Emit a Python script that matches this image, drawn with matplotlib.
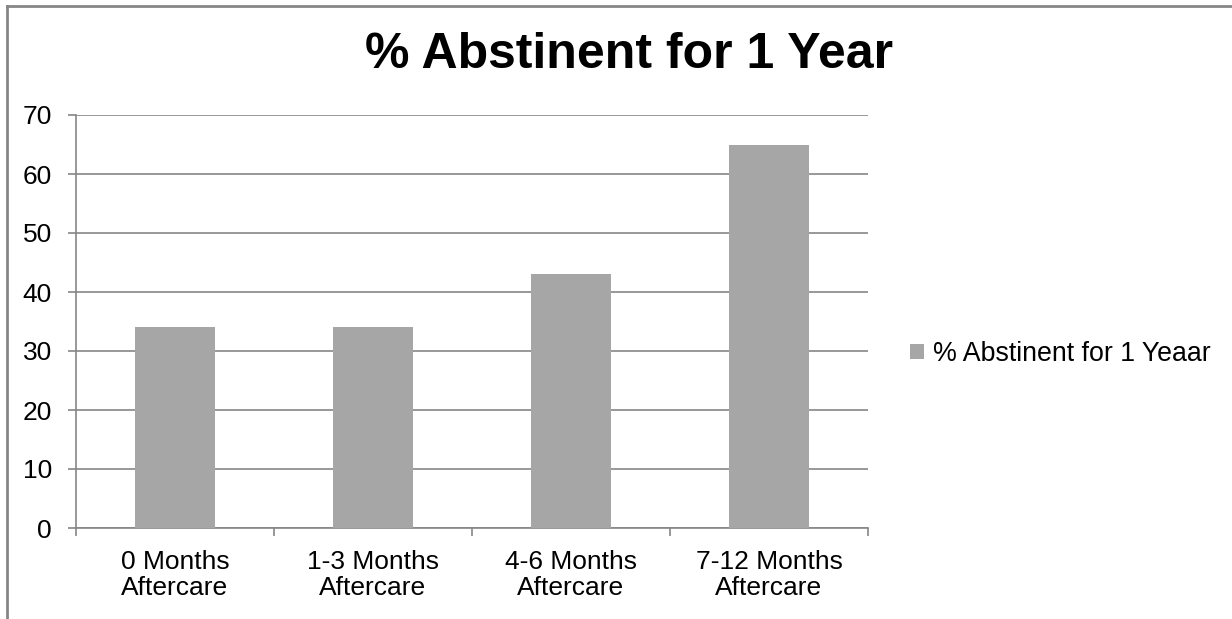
import matplotlib
matplotlib.use("Agg")
import matplotlib.pyplot as plt
from matplotlib.lines import Line2D

categories = ["0 Months\nAftercare", "1-3 Months\nAftercare", "4-6 Months\nAftercare", "7-12 Months\nAftercare"]
values = [34, 34, 43, 65]
series_name = "% Abstinent for 1 Yeaar"
title = "% Abstinent for 1 Year"
yticks = [0, 10, 20, 30, 40, 50, 60, 70]

plt.rcParams['font.family'] = ['Liberation Sans', 'DejaVu Sans']

W, H = 1232, 619
fig = plt.figure(figsize=(W/100, H/100), dpi=100)
left, right, bottom, top = 76, 868, 528, 115
ax = fig.add_axes([left/W, 1 - bottom/H, (right-left)/W, (bottom-top)/H])

grid_c = "#868686"
bar_c = "#A6A6A6"
fs = 19
x = list(range(len(categories)))
ax.bar(x, values, width=0.4, color=bar_c, label=series_name, zorder=3)
ax.set_xlim(-0.5, len(categories) - 0.5)
ax.set_ylim(0, 70)
ax.set_yticks(yticks)
ax.set_yticklabels([str(v) for v in yticks], fontsize=fs)
ax.yaxis.grid(True, color=grid_c, linewidth=1.2, zorder=0)
ax.set_xticks(x)
ax.set_xticklabels(categories, fontsize=fs, linespacing=1.1)
ax.tick_params(axis='x', length=0, pad=16)
ax.tick_params(axis='y', length=5.8, width=1.2, color=grid_c, pad=11.5)
# category boundary ticks
ax.set_xticks([i - 0.5 for i in range(len(categories) + 1)], minor=True)
ax.tick_params(axis='x', which='minor', length=5.8, width=1.2, color=grid_c, direction='out')
for s in ['top', 'right']:
    ax.spines[s].set_visible(False)
for s in ['left', 'bottom']:
    ax.spines[s].set_color(grid_c)
    ax.spines[s].set_linewidth(1.2)

fig.text(629/W, 1 - 55/H, title, fontsize=36, fontweight='bold', ha='center', va='center')

leg = fig.legend(loc='center left', bbox_to_anchor=(886/W, 1 - 354/H), frameon=False,
                 fontsize=19.3, handlelength=0.5, handleheight=0.5, handletextpad=0.35)

# outer chart frame (left and top visible)
fig.add_artist(Line2D([7/W, 7/W], [0, 1 - 6/H], color=grid_c, linewidth=2, transform=fig.transFigure))
fig.add_artist(Line2D([7/W, 1], [1 - 6/H, 1 - 6/H], color=grid_c, linewidth=2, transform=fig.transFigure))

fig.savefig("out.png", dpi=100, facecolor='white')
